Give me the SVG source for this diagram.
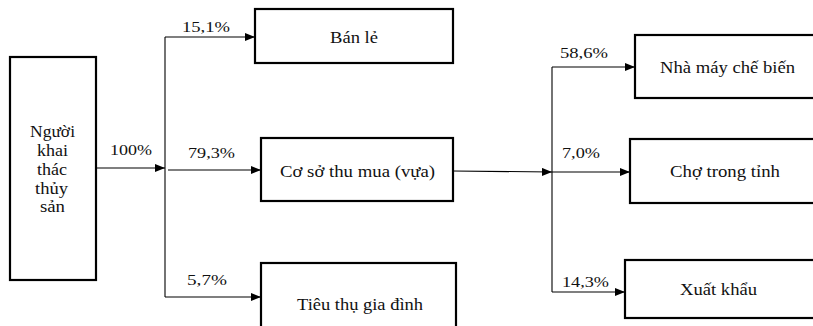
<svg xmlns="http://www.w3.org/2000/svg" width="813" height="326" viewBox="0 0 813 326">
  <style>
    .box { fill: #ffffff; stroke: #000000; stroke-width: 2.2; }
    .wire { fill: none; stroke: #000000; stroke-width: 1.1; }
    .lbl { font-size: 16px; }
    .pct { font-size: 15px; }
  </style>
  <defs>
    <marker id="arrow" markerUnits="userSpaceOnUse" markerWidth="11" markerHeight="9" refX="10" refY="4" orient="auto">
      <path d="M0,0 L10,4 L0,8 z" fill="#000000"/>
    </marker>
  </defs>

  <rect width="813" height="326" fill="#ffffff"/>

  <g font-family="Liberation Serif, serif" fill="#111111">
  <!-- connectors -->
  <g id="connectors">
    <line class="wire" x1="96" y1="168" x2="165" y2="168" marker-end="url(#arrow)"/>
    <line class="wire" x1="165" y1="37" x2="165" y2="297"/>
    <line class="wire" x1="165" y1="37" x2="255" y2="37" marker-end="url(#arrow)"/>
    <line class="wire" x1="168" y1="170" x2="261" y2="170" marker-end="url(#arrow)"/>
    <line class="wire" x1="165" y1="297" x2="261" y2="297" marker-end="url(#arrow)"/>
    <line class="wire" x1="453" y1="171" x2="552" y2="172" marker-end="url(#arrow)"/>
    <line class="wire" x1="552" y1="67" x2="552" y2="292"/>
    <line class="wire" x1="552" y1="67" x2="635" y2="67" marker-end="url(#arrow)"/>
    <line class="wire" x1="552" y1="172" x2="630" y2="172" marker-end="url(#arrow)"/>
    <line class="wire" x1="552" y1="292" x2="625" y2="292" marker-end="url(#arrow)"/>

    <text class="pct" x="110" y="155" textLength="42" lengthAdjust="spacingAndGlyphs">100%</text>
    <text class="pct" x="182" y="32" textLength="48" lengthAdjust="spacingAndGlyphs">15,1%</text>
    <text class="pct" x="188" y="158" textLength="47" lengthAdjust="spacingAndGlyphs">79,3%</text>
    <text class="pct" x="187" y="285" textLength="40" lengthAdjust="spacingAndGlyphs">5,7%</text>
    <text class="pct" x="560" y="58" textLength="48" lengthAdjust="spacingAndGlyphs">58,6%</text>
    <text class="pct" x="562" y="158" textLength="38" lengthAdjust="spacingAndGlyphs">7,0%</text>
    <text class="pct" x="562" y="287" textLength="47" lengthAdjust="spacingAndGlyphs">14,3%</text>
  </g>

  <!-- source -->
  <g id="nguoi-khai-thac">
    <rect class="box" x="10" y="57" width="86" height="223"/>
    <text class="lbl" x="30" y="137" textLength="45" lengthAdjust="spacingAndGlyphs">Người</text>
    <text class="lbl" x="37" y="156" textLength="31" lengthAdjust="spacingAndGlyphs">khai</text>
    <text class="lbl" x="37" y="175" textLength="30" lengthAdjust="spacingAndGlyphs">thác</text>
    <text class="lbl" x="35" y="194" textLength="33" lengthAdjust="spacingAndGlyphs">thủy</text>
    <text class="lbl" x="40" y="212" textLength="25" lengthAdjust="spacingAndGlyphs">sản</text>
  </g>

  <!-- first-tier channels -->
  <g id="ban-le">
    <rect class="box" x="255" y="9" width="198" height="54"/>
    <text class="lbl" x="330" y="43" textLength="48" lengthAdjust="spacingAndGlyphs">Bán lẻ</text>
  </g>
  <g id="co-so-thu-mua">
    <rect class="box" x="261" y="138" width="192" height="63"/>
    <text class="lbl" x="280" y="177" textLength="155" lengthAdjust="spacingAndGlyphs">Cơ sở thu mua (vựa)</text>
  </g>
  <g id="tieu-thu-gia-dinh">
    <rect class="box" x="261" y="263" width="195" height="70"/>
    <text class="lbl" x="297" y="310" textLength="126" lengthAdjust="spacingAndGlyphs">Tiêu thụ gia đình</text>
  </g>

  <!-- second-tier channels -->
  <g id="nha-may-che-bien">
    <rect class="box" x="635" y="35" width="190" height="63"/>
    <text class="lbl" x="660" y="73" textLength="135" lengthAdjust="spacingAndGlyphs">Nhà máy chế biến</text>
  </g>
  <g id="cho-trong-tinh">
    <rect class="box" x="630" y="139" width="195" height="64"/>
    <text class="lbl" x="670" y="177" textLength="110" lengthAdjust="spacingAndGlyphs">Chợ trong tỉnh</text>
  </g>
  <g id="xuat-khau">
    <rect class="box" x="625" y="260" width="200" height="58"/>
    <text class="lbl" x="680" y="295" textLength="77" lengthAdjust="spacingAndGlyphs">Xuất khẩu</text>
  </g>
  </g>
</svg>
